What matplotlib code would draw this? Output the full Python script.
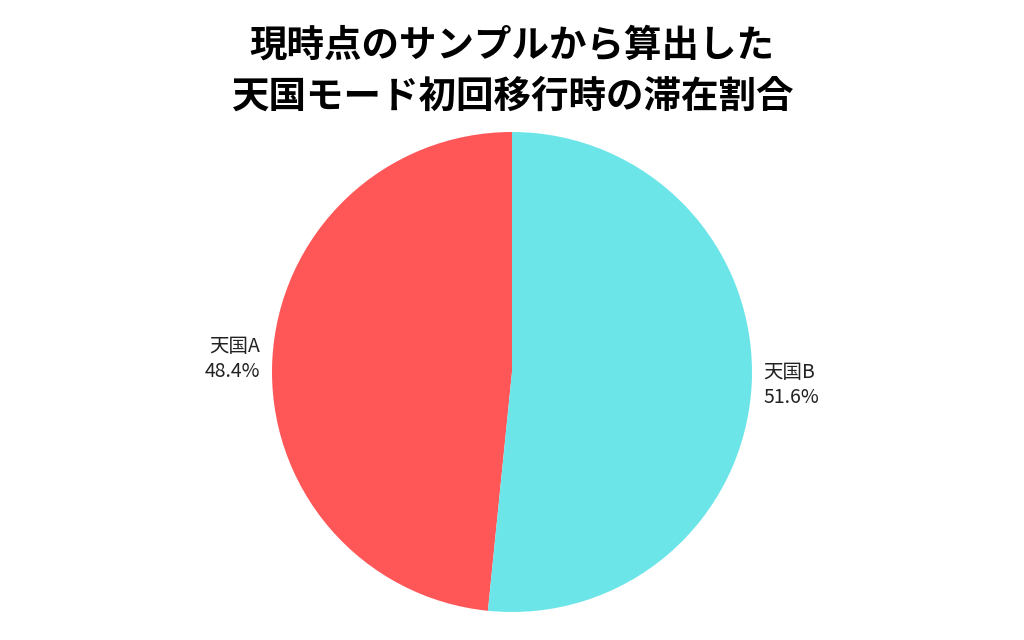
import matplotlib
matplotlib.use("Agg")
import matplotlib.pyplot as plt

plt.rcParams['font.family'] = ['Noto Sans CJK JP', 'DejaVu Sans']

title_lines = ["現時点のサンプルから算出した", "天国モード初回移行時の滞在割合"]
labels = ["天国A", "天国B"]
shares = [48.4, 51.6]
colors = ["#FF5757", "#6CE5E8"]

fig = plt.figure(figsize=(10.24, 6.4), dpi=100)
ax = fig.add_axes([272 / 1024, 28 / 640, 480 / 1024, 480 / 640])

wedges, texts, autotexts = ax.pie(
    shares, labels=labels, colors=colors, startangle=90, counterclock=True,
    autopct="%.1f%%", pctdistance=1.05, labeldistance=1.05,
    textprops={'fontsize': 14, 'color': '#222222'},
)
# label and percent stacked: put name above the percentage
for t, a in zip(texts, autotexts):
    t.set_text(t.get_text() + "\n" + a.get_text())
    t.set_linespacing(1.25)
    a.set_visible(False)

ax.set_xlim(-1, 1)
ax.set_ylim(-1, 1)
ax.set_aspect('equal')

fig.text(0.5, 1 - 45 / 640, title_lines[0], ha='center', va='center',
         fontsize=27, fontweight='bold', color='black')
fig.text(0.5, 1 - 96 / 640, title_lines[1], ha='center', va='center',
         fontsize=27, fontweight='bold', color='black')

fig.savefig("out.png", dpi=100, facecolor='white')
